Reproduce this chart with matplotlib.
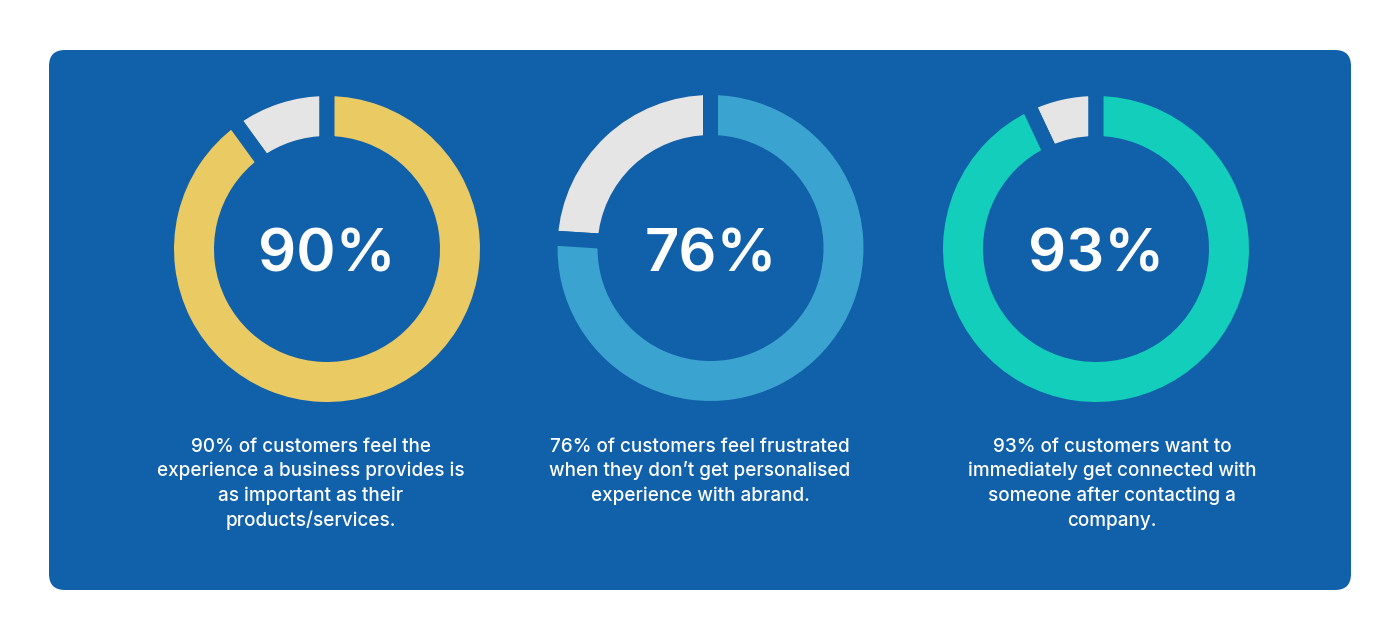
import matplotlib
matplotlib.use("Agg")
import matplotlib.pyplot as plt
from matplotlib.patches import FancyBboxPatch

# ---- data ----
labels = ["90%", "76%", "93%"]
percent = [90, 76, 93]
ring_colors = ["#E9CA63", "#3BA3CF", "#13CEBB"]
rest_color = "#E5E5E5"
captions = [
    ["90% of customers feel the", "experience a business provides is",
     "as important as their", "products/services."],
    ["76% of customers feel frustrated", "when they don\u2019t get personalised",
     "experience with abrand."],
    ["93% of customers want to", "immediately get connected with",
     "someone after contacting a", "company."],
]

# ---- layout ----
W, H = 1400, 640
BG = "#1160AA"
centers = [(327, 249), (710.5, 248), (1096, 249)]
caption_x = [311, 700, 1112]
R_OUT, RING = 153, 40
GAP_PX = 15

fig = plt.figure(figsize=(W / 100, H / 100), dpi=100)
fig.patch.set_facecolor("white")
ax = fig.add_axes([0, 0, 1, 1])
ax.set_xlim(0, W)
ax.set_ylim(0, H)
ax.set_aspect("equal")
ax.axis("off")

box = FancyBboxPatch((49, H - 590), 1302, 540,
                     boxstyle="round,pad=0,rounding_size=16",
                     facecolor=BG, edgecolor="none", zorder=0)
ax.add_patch(box)

lw_pt = GAP_PX * 72 / 100
for (cx, cy), p, col, lab, capx, cap in zip(centers, percent, ring_colors,
                                             labels, caption_x, captions):
    ax.pie([100 - p, p], colors=[rest_color, col], startangle=90,
           counterclock=True, center=(cx, H - cy),
           radius=R_OUT + GAP_PX / 2, frame=True,
           wedgeprops=dict(width=RING + GAP_PX, edgecolor=BG,
                           linewidth=lw_pt, zorder=2))
    ax.text(cx, H - 271, lab, ha="center", va="baseline", color="white",
            fontsize=43, fontweight="semibold", family="Inter", zorder=3)
    base = 452
    for i, line in enumerate(cap):
        ax.text(capx, H - (base + 24.5 * i), line, ha="center",
                va="baseline", color="white", fontsize=13.6,
                fontweight="medium", family="Inter", zorder=3)

ax.set_xlim(0, W)
ax.set_ylim(0, H)
ax.axis("off")
fig.savefig("out.png", dpi=100, facecolor="white")
